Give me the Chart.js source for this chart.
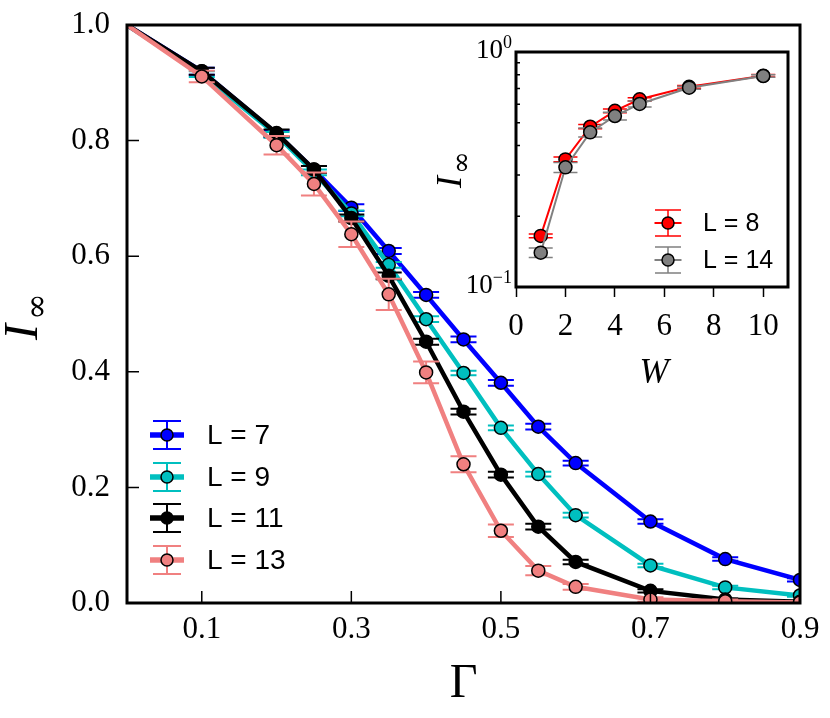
<!DOCTYPE html>
<html>
<head>
<meta charset="utf-8">
<title>I_inf vs Gamma</title>
<script src="https://cdn.jsdelivr.net/npm/chart.js@4.4.1/dist/chart.umd.min.js"></script>
<style>
  html, body { margin: 0; padding: 0; background: #fff; }
  #wrap { position: relative; width: 830px; height: 718px; }
  #main { position: absolute; left: 0; top: 0; width: 830px; height: 718px; }
  #inset { position: absolute; left: 430px; top: 30px; width: 380px; height: 370px; }
</style>
</head>
<body>
<div id="wrap">
  <canvas id="main" width="830" height="718"></canvas>
  <canvas id="inset" width="380" height="370"></canvas>
</div>
<script>
// ---- main panel data ----
const gammaVals = [0, 0.1, 0.2, 0.25, 0.3, 0.35, 0.4, 0.45, 0.5, 0.55, 0.6, 0.7, 0.8, 0.9];
const iInfL7  = [1.0, 0.920, 0.812, 0.750, 0.684, 0.609, 0.533, 0.456, 0.381, 0.305, 0.242, 0.141, 0.076, 0.040];
const iInfL9  = [1.0, 0.915, 0.810, 0.745, 0.674, 0.585, 0.491, 0.398, 0.303, 0.223, 0.152, 0.065, 0.027, 0.013];
const iInfL11 = [1.0, 0.920, 0.813, 0.750, 0.666, 0.566, 0.452, 0.331, 0.222, 0.132, 0.071, 0.021, 0.006, 0.002];
const iInfL13 = [1.0, 0.911, 0.792, 0.725, 0.638, 0.534, 0.399, 0.240, 0.125, 0.056, 0.028, 0.006, 0.003, 0.001];
const errL7   = [0, 0.006, 0.006, 0.006, 0.006, 0.005, 0.005, 0.005, 0.005, 0.005, 0.004, 0.004, 0.003, 0.003];
const errL9   = [0, 0.005, 0.005, 0.005, 0.005, 0.005, 0.005, 0.004, 0.004, 0.004, 0.004, 0.003, 0.003, 0.002];
const errL11  = [0, 0.006, 0.006, 0.006, 0.006, 0.006, 0.005, 0.005, 0.005, 0.005, 0.004, 0.003, 0.002, 0.002];
const errL13  = [0, 0.010, 0.016, 0.020, 0.022, 0.027, 0.019, 0.014, 0.011, 0.008, 0.005, 0.004, 0.003, 0.002];
const gammaTicks = [0.1, 0.3, 0.5, 0.7, 0.9];
const iInfTicks  = [0, 0.2, 0.4, 0.6, 0.8, 1.0];

// ---- inset data ----
const wVals   = [1, 2, 3, 4, 5, 7, 10];
const iInfL8  = [0.165, 0.349, 0.481, 0.562, 0.629, 0.711, 0.793];
const iInfL14 = [0.140, 0.323, 0.455, 0.534, 0.601, 0.705, 0.790];
const errL8   = [0.003, 0.008, 0.010, 0.010, 0.010, 0.010, 0.010];
const errL14  = [0.0065, 0.016, 0.020, 0.020, 0.017, 0.010, 0.010];
const wTicks     = [0, 2, 4, 6, 8, 10];
const logMajor   = [0.1, 1];
const logMinor   = [0.2, 0.3, 0.4, 0.5, 0.6, 0.7, 0.8, 0.9];

const SERIF = '"Liberation Serif", "DejaVu Serif", serif';
const SANS = '"Liberation Sans", Arial, sans-serif';

function pts(xs, ys) {
    return xs.map(function (x, i) { return { x: x, y: ys[i] }; });
}

// error bars, drawn under each dataset's own line and markers
const errorBars = {
    id: 'errorBars',
    beforeDatasetDraw(chart, args, opts) {
        const ds = chart.data.datasets[args.index];
        if (!ds.errors) return;
        const ctx = chart.ctx, a = chart.chartArea;
        const xs = chart.scales.x, ys = chart.scales.y;
        ctx.save();
        ctx.beginPath();
        ctx.rect(a.left, a.top, a.right - a.left, a.bottom - a.top);
        ctx.clip();
        ctx.strokeStyle = ds.borderColor;
        ctx.lineWidth = opts.width;
        ds.data.forEach(function (p, i) {
            const e = ds.errors[i];
            if (!e) return;
            const px = xs.getPixelForValue(p.x);
            const lo = ys.getPixelForValue(p.y - e);
            const hi = ys.getPixelForValue(p.y + e);
            ctx.beginPath();
            ctx.moveTo(px, lo); ctx.lineTo(px, hi);
            ctx.moveTo(px - opts.cap, lo); ctx.lineTo(px + opts.cap, lo);
            ctx.moveTo(px - opts.cap, hi); ctx.lineTo(px + opts.cap, hi);
            ctx.stroke();
        });
        ctx.restore();
    }
};

// box round the axes plus inward tick marks
const frame = {
    id: 'frame',
    afterDatasetsDraw(chart, args, o) {
        const ctx = chart.ctx, a = chart.chartArea;
        ctx.save();
        ctx.strokeStyle = '#000';
        ctx.lineWidth = o.tickWidth;
        ctx.beginPath();
        (o.xTicks || []).forEach(function (t) {
            const px = chart.scales.x.getPixelForValue(t.v);
            ctx.moveTo(px, a.bottom); ctx.lineTo(px, a.bottom - t.len);
        });
        (o.yTicks || []).forEach(function (t) {
            const py = chart.scales.y.getPixelForValue(t.v);
            ctx.moveTo(a.left, py); ctx.lineTo(a.left + t.len, py);
        });
        ctx.stroke();
        ctx.lineWidth = o.width;
        ctx.strokeRect(a.left, a.top, a.right - a.left, a.bottom - a.top);
        ctx.restore();
    }
};

// legend with error-bar symbols, placed inside the axes
const errLegend = {
    id: 'errLegend',
    afterDraw(chart, args, o) {
        const ctx = chart.ctx, a = chart.chartArea;
        const cx = a.left + o.dx;
        ctx.save();
        chart.data.datasets.forEach(function (ds, i) {
            const cy = a.bottom - o.dy[i];
            ctx.strokeStyle = ds.borderColor;
            ctx.lineWidth = o.lineWidth;
            ctx.beginPath();
            ctx.moveTo(cx - o.lineHalf, cy); ctx.lineTo(cx + o.lineHalf, cy);
            ctx.stroke();
            ctx.lineWidth = o.errWidth;
            ctx.beginPath();
            ctx.moveTo(cx, cy - o.errHalf); ctx.lineTo(cx, cy + o.errHalf);
            ctx.moveTo(cx - o.cap, cy - o.errHalf); ctx.lineTo(cx + o.cap, cy - o.errHalf);
            ctx.moveTo(cx - o.cap, cy + o.errHalf); ctx.lineTo(cx + o.cap, cy + o.errHalf);
            ctx.stroke();
            ctx.beginPath();
            ctx.arc(cx, cy, o.r, 0, Math.PI * 2);
            ctx.fillStyle = ds.pointBackgroundColor;
            ctx.fill();
            ctx.lineWidth = 1.5;
            ctx.strokeStyle = '#000';
            ctx.stroke();
            ctx.fillStyle = '#000';
            ctx.font = o.fontSize + 'px ' + SANS;
            ctx.textAlign = 'left';
            ctx.textBaseline = 'middle';
            ctx.fillText(ds.label, a.left + o.textDx, cy + 1);
        });
        ctx.restore();
    }
};

// rotated "I" with subscript infinity
function drawIinf(ctx, baseX, bottomY, sI, sInf, gap, drop) {
    ctx.save();
    ctx.translate(baseX, bottomY);
    ctx.rotate(-Math.PI / 2);
    ctx.fillStyle = '#000';
    ctx.textAlign = 'left';
    ctx.textBaseline = 'alphabetic';
    ctx.font = 'italic ' + sI + 'px ' + SERIF;
    ctx.fillText('I', 0, 0);
    const w = ctx.measureText('I').width;
    ctx.font = sInf + 'px "DejaVu Serif", serif';
    ctx.fillText('\u221E', w + gap, drop);
    ctx.restore();
}

const mainTitles = {
    id: 'mainTitles',
    afterDraw(chart) {
        const ctx = chart.ctx, a = chart.chartArea;
        ctx.save();
        ctx.fillStyle = '#000';
        ctx.font = '48px ' + SERIF;
        ctx.textAlign = 'center';
        ctx.textBaseline = 'alphabetic';
        ctx.fillText('\u0393', (a.left + a.right) / 2, 697);
        ctx.restore();
        drawIinf(ctx, 37, 340, 48, 32, 4, 10);
    }
};

const insetDecor = {
    id: 'insetDecor',
    beforeDatasetsDraw(chart) {
        const ctx = chart.ctx, a = chart.chartArea;
        ctx.save();
        ctx.fillStyle = '#fff';
        ctx.fillRect(a.left, a.top, a.right - a.left, a.bottom - a.top);
        ctx.restore();
    },
    afterDraw(chart) {
        const ctx = chart.ctx, a = chart.chartArea, ys = chart.scales.y;
        ctx.save();
        ctx.fillStyle = '#000';
        ctx.textAlign = 'right';
        ctx.textBaseline = 'middle';
        logMajor.forEach(function (v) {
            const py = ys.getPixelForValue(v);
            const exp = String(Math.round(Math.log10(v))).replace('-', '\u2212');
            const right = a.left - 4;
            ctx.font = '18px ' + SERIF;
            const ew = ctx.measureText(exp).width;
            ctx.fillText(exp, right, py - 9);
            ctx.font = '27px ' + SERIF;
            ctx.fillText('10', right - ew, py - 1);
        });
        ctx.font = 'italic 35px ' + SERIF;
        ctx.textAlign = 'center';
        ctx.textBaseline = 'alphabetic';
        ctx.fillText('W', (a.left + a.right) / 2 + 2, 353);
        ctx.restore();
        drawIinf(ctx, 31, 158, 36, 27, 2, 9);
    }
};

const mainSeries = [
    { label: 'L = 7',  vals: iInfL7,  errs: errL7,  color: '#0000ff', order: 4 },
    { label: 'L = 9',  vals: iInfL9,  errs: errL9,  color: '#00bfbf', order: 3 },
    { label: 'L = 11', vals: iInfL11, errs: errL11, color: '#000000', order: 2 },
    { label: 'L = 13', vals: iInfL13, errs: errL13, color: '#f08080', order: 1 }
];

new Chart(document.getElementById('main'), {
    type: 'line',
    data: {
        datasets: mainSeries.map(function (s) {
            return {
                label: s.label,
                data: pts(gammaVals, s.vals),
                errors: s.errs,
                order: s.order,
                borderColor: s.color,
                backgroundColor: s.color,
                pointBackgroundColor: s.color,
                pointBorderColor: '#000',
                pointBorderWidth: 1.5,
                pointRadius: gammaVals.map(function (g) { return g === 0 ? 0 : 6.5; }),
                borderWidth: 4.5,
                tension: 0,
                fill: false,
                clip: 0
            };
        })
    },
    options: {
        responsive: false,
        animation: false,
        devicePixelRatio: 1,
        layout: { autoPadding: false, padding: { left: 0, top: 25, right: 30, bottom: 0 } },
        plugins: {
            legend: { display: false },
            tooltip: { enabled: false },
            errorBars: { width: 2, cap: 13 },
            frame: {
                width: 3, tickWidth: 1.5,
                xTicks: gammaTicks.map(function (v) { return { v: v, len: 12 }; }),
                yTicks: iInfTicks.map(function (v) { return { v: v, len: 12 }; })
            },
            errLegend: {
                dx: 40, dy: [168, 126, 85, 43], textDx: 80, fontSize: 28,
                lineHalf: 17, lineWidth: 5.5, errHalf: 14, errWidth: 2, cap: 14, r: 6
            }
        },
        scales: {
            x: {
                type: 'linear', min: 0, max: 0.9,
                afterBuildTicks: function (s) { s.ticks = gammaTicks.map(function (v) { return { value: v }; }); },
                afterFit: function (s) { s.height = 115; },
                grid: { display: false, drawTicks: false },
                border: { display: false },
                ticks: {
                    color: '#000', padding: 8, maxRotation: 0, autoSkip: false,
                    font: { family: SERIF, size: 31 },
                    callback: function (v) { return Number(v).toFixed(1); }
                }
            },
            y: {
                type: 'linear', min: 0, max: 1,
                afterBuildTicks: function (s) { s.ticks = iInfTicks.map(function (v) { return { value: v }; }); },
                afterFit: function (s) { s.width = 127; },
                // invisible tick marks give the label gap without padding the top of the plot
                grid: { display: true, drawOnChartArea: false, drawTicks: true, tickLength: 17, tickColor: 'rgba(0,0,0,0)' },
                border: { display: false },
                ticks: {
                    color: '#000', padding: 0, autoSkip: false,
                    font: { family: SERIF, size: 31 },
                    callback: function (v) { return Number(v).toFixed(1); }
                }
            }
        }
    },
    plugins: [errorBars, frame, errLegend, mainTitles]
});

const insetSeries = [
    { label: 'L = 8',  vals: iInfL8,  errs: errL8,  color: '#ff0000', order: 2 },
    { label: 'L = 14', vals: iInfL14, errs: errL14, color: '#808080', order: 1 }
];

new Chart(document.getElementById('inset'), {
    type: 'line',
    data: {
        datasets: insetSeries.map(function (s) {
            return {
                label: s.label,
                data: pts(wVals, s.vals),
                errors: s.errs,
                order: s.order,
                borderColor: s.color,
                backgroundColor: s.color,
                pointBackgroundColor: s.color,
                pointBorderColor: '#000',
                pointBorderWidth: 1.5,
                pointRadius: 6.5,
                borderWidth: 2,
                tension: 0,
                fill: false,
                clip: 0
            };
        })
    },
    options: {
        responsive: false,
        animation: false,
        devicePixelRatio: 1,
        layout: { autoPadding: false, padding: { left: 0, top: 22, right: 22, bottom: 0 } },
        plugins: {
            legend: { display: false },
            tooltip: { enabled: false },
            errorBars: { width: 1.5, cap: 12 },
            frame: {
                width: 3, tickWidth: 1.5,
                yTicks: logMajor.map(function (v) { return { v: v, len: 7 }; })
                    .concat(logMinor.map(function (v) { return { v: v, len: 4 }; }))
            },
            errLegend: {
                dx: 152, dy: [64, 27], textDx: 187, fontSize: 25,
                lineHalf: 13.5, lineWidth: 2, errHalf: 13, errWidth: 1.5, cap: 13, r: 6
            }
        },
        scales: {
            x: {
                type: 'linear', min: 0, max: 11,
                afterBuildTicks: function (s) { s.ticks = wTicks.map(function (v) { return { value: v }; }); },
                afterFit: function (s) { s.height = 113; },
                grid: { display: true, drawOnChartArea: false, drawTicks: true, tickLength: 10, tickWidth: 1.5, tickColor: '#000' },
                border: { display: false },
                ticks: {
                    color: '#000', padding: 11, maxRotation: 0, autoSkip: false,
                    font: { family: SERIF, size: 31 },
                    callback: function (v) { return String(v); }
                }
            },
            y: {
                type: 'logarithmic', min: 0.1, max: 1,
                afterFit: function (s) { s.width = 86; },
                grid: { display: false, drawTicks: false },
                border: { display: false },
                ticks: { display: false }
            }
        }
    },
    plugins: [errorBars, frame, errLegend, insetDecor]
});
</script>
</body>
</html>
